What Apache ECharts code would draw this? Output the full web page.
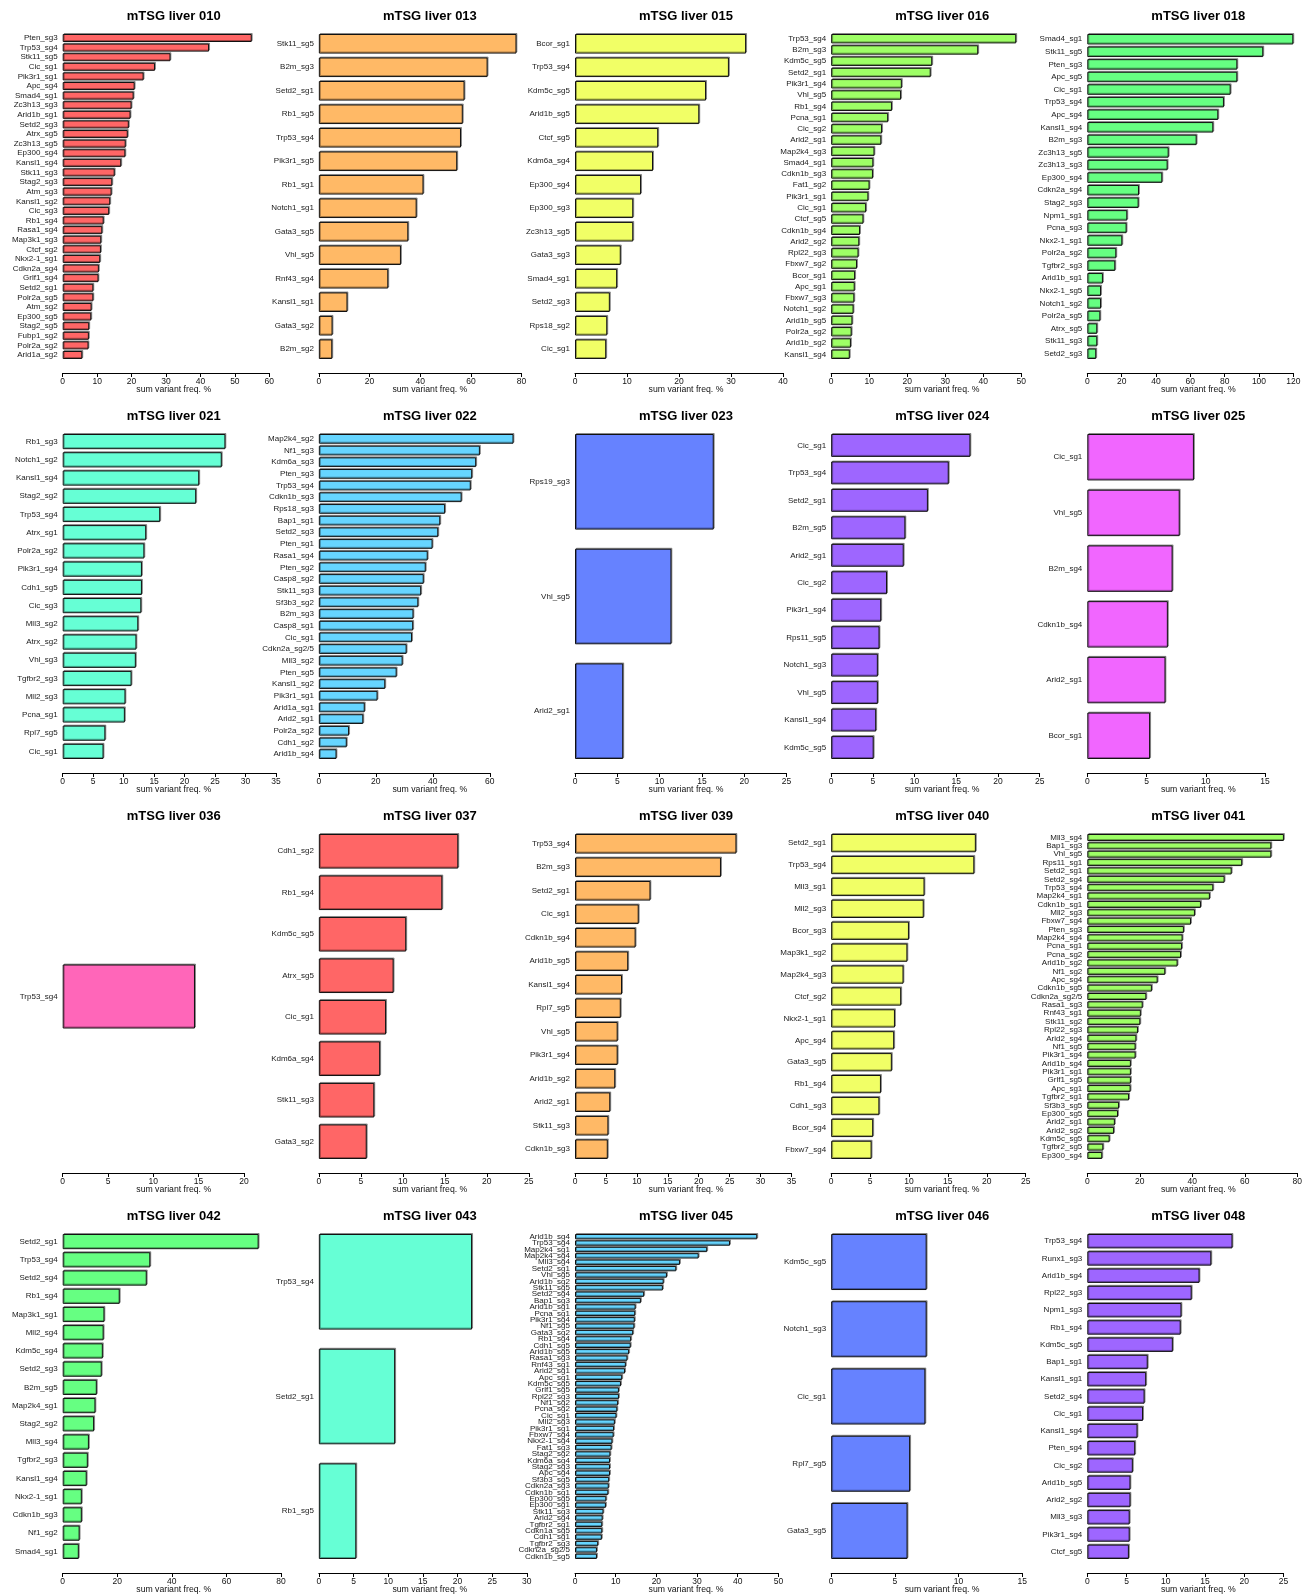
<!DOCTYPE html>
<html>
<head>
<meta charset="utf-8">
<script src="https://cdn.jsdelivr.net/npm/echarts@6/dist/echarts.min.js"></script>
<style>
  html, body { margin: 0; padding: 0; background: #ffffff; }
  #chart { width: 1316px; height: 1595px; }
</style>
</head>
<body>
<div id="chart"></div>
<script>
// ---- Sum of variant frequencies per sgRNA, one panel per liver sample ----

const sampleIds = ['010', '013', '015', '016', '018', '021', '022', '023', '024', '025',
                   '036', '037', '039', '040', '041', '042', '043', '045', '046', '048'];

const labels010 = ['Pten_sg3', 'Trp53_sg4', 'Stk11_sg5', 'Cic_sg1', 'Pik3r1_sg1', 'Apc_sg4', 'Smad4_sg1', 'Zc3h13_sg3', 'Arid1b_sg1', 'Setd2_sg3', 'Atrx_sg5', 'Zc3h13_sg5', 'Ep300_sg4', 'Kansl1_sg4', 'Stk11_sg3', 'Stag2_sg3', 'Atm_sg3', 'Kansl1_sg2', 'Cic_sg3', 'Rb1_sg4', 'Rasa1_sg4', 'Map3k1_sg3', 'Ctcf_sg2', 'Nkx2-1_sg1', 'Cdkn2a_sg4', 'Grlf1_sg4', 'Setd2_sg1', 'Polr2a_sg5', 'Atm_sg2', 'Ep300_sg5', 'Stag2_sg5', 'Fubp1_sg2', 'Polr2a_sg2', 'Arid1a_sg2'];
const values010 = [54.9, 42.5, 31.3, 26.8, 23.5, 20.9, 20.6, 20.0, 19.7, 19.2, 18.9, 18.3, 18.2, 17.0, 15.1, 14.4, 14.2, 13.8, 13.5, 11.9, 11.5, 11.2, 11.1, 10.9, 10.5, 10.4, 8.9, 8.9, 8.4, 8.3, 7.7, 7.6, 7.5, 5.7];
const ticks010 = [0, 10, 20, 30, 40, 50, 60];

const labels013 = ['Stk11_sg5', 'B2m_sg3', 'Setd2_sg1', 'Rb1_sg5', 'Trp53_sg4', 'Pik3r1_sg5', 'Rb1_sg1', 'Notch1_sg1', 'Gata3_sg5', 'Vhl_sg5', 'Rnf43_sg4', 'Kansl1_sg1', 'Gata3_sg2', 'B2m_sg2'];
const values013 = [78.0, 66.6, 57.5, 56.8, 56.1, 54.6, 41.3, 38.6, 35.3, 32.4, 27.4, 11.3, 5.4, 5.3];
const ticks013 = [0, 20, 40, 60, 80];

const labels015 = ['Bcor_sg1', 'Trp53_sg4', 'Kdm5c_sg5', 'Arid1b_sg5', 'Ctcf_sg5', 'Kdm6a_sg4', 'Ep300_sg4', 'Ep300_sg3', 'Zc3h13_sg5', 'Gata3_sg3', 'Smad4_sg1', 'Setd2_sg3', 'Rps18_sg2', 'Cic_sg1'];
const values015 = [32.9, 29.6, 25.2, 23.9, 16.0, 15.0, 12.7, 11.2, 11.2, 8.8, 8.1, 6.7, 6.2, 6.0];
const ticks015 = [0, 10, 20, 30, 40];

const labels016 = ['Trp53_sg4', 'B2m_sg3', 'Kdm5c_sg5', 'Setd2_sg1', 'Pik3r1_sg4', 'Vhl_sg5', 'Rb1_sg4', 'Pcna_sg1', 'Cic_sg2', 'Arid2_sg1', 'Map2k4_sg3', 'Smad4_sg1', 'Cdkn1b_sg3', 'Fat1_sg2', 'Pik3r1_sg1', 'Cic_sg1', 'Ctcf_sg5', 'Cdkn1b_sg4', 'Arid2_sg2', 'Rpl22_sg3', 'Fbxw7_sg2', 'Bcor_sg1', 'Apc_sg1', 'Fbxw7_sg3', 'Notch1_sg2', 'Arid1b_sg5', 'Polr2a_sg2', 'Arid1b_sg2', 'Kansl1_sg4'];
const values016 = [48.7, 38.7, 26.6, 26.2, 18.6, 18.4, 16.0, 15.0, 13.4, 13.2, 11.4, 11.1, 11.0, 10.1, 9.8, 9.2, 8.5, 7.6, 7.4, 7.2, 6.8, 6.3, 6.2, 6.1, 5.9, 5.6, 5.4, 5.2, 4.9];
const ticks016 = [0, 10, 20, 30, 40, 50];

const labels018 = ['Smad4_sg1', 'Stk11_sg5', 'Pten_sg3', 'Apc_sg5', 'Cic_sg1', 'Trp53_sg4', 'Apc_sg4', 'Kansl1_sg4', 'B2m_sg3', 'Zc3h13_sg5', 'Zc3h13_sg3', 'Ep300_sg4', 'Cdkn2a_sg4', 'Stag2_sg3', 'Npm1_sg1', 'Pcna_sg3', 'Nkx2-1_sg1', 'Polr2a_sg2', 'Tgfbr2_sg3', 'Arid1b_sg1', 'Nkx2-1_sg5', 'Notch1_sg2', 'Polr2a_sg5', 'Atrx_sg5', 'Stk11_sg3', 'Setd2_sg3'];
const values018 = [120.0, 102.5, 87.4, 87.4, 83.5, 79.6, 76.3, 73.4, 63.7, 47.4, 46.8, 43.7, 30.1, 29.9, 23.3, 22.9, 20.4, 16.9, 16.3, 9.1, 8.0, 8.0, 7.6, 5.8, 5.8, 5.2];
const ticks018 = [0, 20, 40, 60, 80, 100, 120];

const labels021 = ['Rb1_sg3', 'Notch1_sg2', 'Kansl1_sg4', 'Stag2_sg2', 'Trp53_sg4', 'Atrx_sg1', 'Polr2a_sg2', 'Pik3r1_sg4', 'Cdh1_sg5', 'Cic_sg3', 'Mll3_sg2', 'Atrx_sg2', 'Vhl_sg3', 'Tgfbr2_sg3', 'Mll2_sg3', 'Pcna_sg1', 'Rpl7_sg5', 'Cic_sg1'];
const values021 = [26.7, 26.1, 22.4, 21.9, 16.0, 13.7, 13.4, 13.0, 13.0, 12.9, 12.4, 12.1, 12.0, 11.3, 10.3, 10.2, 7.0, 6.7];
const ticks021 = [0, 5, 10, 15, 20, 25, 30, 35];

const labels022 = ['Map2k4_sg2', 'Nf1_sg3', 'Kdm6a_sg3', 'Pten_sg3', 'Trp53_sg4', 'Cdkn1b_sg3', 'Rps18_sg3', 'Bap1_sg1', 'Setd2_sg3', 'Pten_sg1', 'Rasa1_sg4', 'Pten_sg2', 'Casp8_sg2', 'Stk11_sg3', 'Sf3b3_sg2', 'B2m_sg3', 'Casp8_sg1', 'Cic_sg1', 'Cdkn2a_sg2/5', 'Mll3_sg2', 'Pten_sg5', 'Kansl1_sg2', 'Pik3r1_sg1', 'Arid1a_sg1', 'Arid2_sg1', 'Polr2a_sg2', 'Cdh1_sg2', 'Arid1b_sg4'];
const values022 = [68.3, 56.5, 55.2, 53.8, 53.3, 50.1, 44.3, 42.6, 41.9, 39.9, 38.2, 37.5, 36.8, 35.9, 34.9, 33.2, 33.1, 32.7, 30.8, 29.4, 27.3, 23.3, 20.6, 16.1, 15.6, 10.6, 9.8, 6.2];
const ticks022 = [0, 20, 40, 60];

const labels023 = ['Rps19_sg3', 'Vhl_sg5', 'Arid2_sg1'];
const values023 = [16.4, 11.4, 5.7];
const ticks023 = [0, 5, 10, 15, 20, 25];

const labels024 = ['Cic_sg1', 'Trp53_sg4', 'Setd2_sg1', 'B2m_sg5', 'Arid2_sg1', 'Cic_sg2', 'Pik3r1_sg4', 'Rps11_sg5', 'Notch1_sg3', 'Vhl_sg5', 'Kansl1_sg4', 'Kdm5c_sg5'];
const values024 = [16.7, 14.1, 11.6, 8.9, 8.7, 6.7, 6.0, 5.8, 5.6, 5.6, 5.4, 5.1];
const ticks024 = [0, 5, 10, 15, 20, 25];

const labels025 = ['Cic_sg1', 'Vhl_sg5', 'B2m_sg4', 'Cdkn1b_sg4', 'Arid2_sg1', 'Bcor_sg1'];
const values025 = [9.0, 7.8, 7.2, 6.8, 6.6, 5.3];
const ticks025 = [0, 5, 10, 15];

const labels036 = ['Trp53_sg4'];
const values036 = [14.6];
const ticks036 = [0, 5, 10, 15, 20];

const labels037 = ['Cdh1_sg2', 'Rb1_sg4', 'Kdm5c_sg5', 'Atrx_sg5', 'Cic_sg1', 'Kdm6a_sg4', 'Stk11_sg3', 'Gata3_sg2'];
const values037 = [16.6, 14.7, 10.4, 8.9, 8.0, 7.3, 6.6, 5.7];
const ticks037 = [0, 5, 10, 15, 20, 25];

const labels039 = ['Trp53_sg4', 'B2m_sg3', 'Setd2_sg1', 'Cic_sg1', 'Cdkn1b_sg4', 'Arid1b_sg5', 'Kansl1_sg4', 'Rpl7_sg5', 'Vhl_sg5', 'Pik3r1_sg4', 'Arid1b_sg2', 'Arid2_sg1', 'Stk11_sg3', 'Cdkn1b_sg3'];
const values039 = [26.1, 23.6, 12.2, 10.3, 9.8, 8.6, 7.6, 7.4, 6.9, 6.9, 6.5, 5.7, 5.4, 5.3];
const ticks039 = [0, 5, 10, 15, 20, 25, 30, 35];

const labels040 = ['Setd2_sg1', 'Trp53_sg4', 'Mll3_sg1', 'Mll2_sg3', 'Bcor_sg3', 'Map3k1_sg2', 'Map2k4_sg3', 'Ctcf_sg2', 'Nkx2-1_sg1', 'Apc_sg4', 'Gata3_sg5', 'Rb1_sg4', 'Cdh1_sg3', 'Bcor_sg4', 'Fbxw7_sg4'];
const values040 = [18.6, 18.4, 12.0, 11.9, 10.0, 9.8, 9.3, 9.0, 8.2, 8.1, 7.8, 6.4, 6.2, 5.4, 5.2];
const ticks040 = [0, 5, 10, 15, 20, 25];

const labels041 = ['Mll3_sg4', 'Bap1_sg3', 'Vhl_sg5', 'Rps11_sg1', 'Setd2_sg1', 'Setd2_sg4', 'Trp53_sg4', 'Map2k4_sg1', 'Cdkn1b_sg1', 'Mll2_sg3', 'Fbxw7_sg4', 'Pten_sg3', 'Map2k4_sg4', 'Pcna_sg1', 'Pcna_sg2', 'Arid1b_sg2', 'Nf1_sg2', 'Apc_sg4', 'Cdkn1b_sg5', 'Cdkn2a_sg2/5', 'Rasa1_sg3', 'Rnf43_sg1', 'Stk11_sg2', 'Rpl22_sg3', 'Arid2_sg4', 'Nf1_sg5', 'Pik3r1_sg4', 'Arid1b_sg4', 'Pik3r1_sg1', 'Grlf1_sg5', 'Apc_sg1', 'Tgfbr2_sg1', 'Sf3b3_sg5', 'Ep300_sg5', 'Arid2_sg1', 'Arid2_sg2', 'Kdm5c_sg5', 'Tgfbr2_sg5', 'Ep300_sg4'];
const values041 = [74.9, 70.1, 70.1, 59.0, 55.0, 52.3, 48.0, 46.7, 43.3, 41.0, 39.5, 36.8, 36.3, 36.1, 35.7, 34.4, 29.7, 26.8, 24.6, 22.5, 21.1, 20.4, 20.2, 19.3, 18.7, 18.4, 18.4, 16.6, 16.6, 16.6, 16.5, 15.9, 12.1, 11.7, 10.5, 10.2, 8.5, 6.1, 5.7];
const ticks041 = [0, 20, 40, 60, 80];

const labels042 = ['Setd2_sg1', 'Trp53_sg4', 'Setd2_sg4', 'Rb1_sg4', 'Map3k1_sg1', 'Mll2_sg4', 'Kdm5c_sg4', 'Setd2_sg3', 'B2m_sg5', 'Map2k4_sg1', 'Stag2_sg2', 'Mll3_sg4', 'Tgfbr2_sg3', 'Kansl1_sg4', 'Nkx2-1_sg1', 'Cdkn1b_sg3', 'Nf1_sg2', 'Smad4_sg1'];
const values042 = [71.8, 32.1, 30.8, 20.9, 15.3, 15.0, 14.7, 14.3, 12.5, 12.0, 11.5, 9.6, 9.2, 8.8, 7.0, 7.0, 6.2, 5.9];
const ticks042 = [0, 20, 40, 60, 80];

const labels043 = ['Trp53_sg4', 'Setd2_sg1', 'Rb1_sg5'];
const values043 = [22.1, 11.0, 5.4];
const ticks043 = [0, 5, 10, 15, 20, 25, 30];

const labels045 = ['Arid1b_sg4', 'Trp53_sg4', 'Map2k4_sg1', 'Map2k4_sg4', 'Mll3_sg4', 'Setd2_sg1', 'Vhl_sg5', 'Arid1b_sg2', 'Stk11_sg5', 'Setd2_sg4', 'Bap1_sg3', 'Arid1b_sg1', 'Pcna_sg1', 'Pik3r1_sg4', 'Nf1_sg5', 'Gata3_sg2', 'Rb1_sg4', 'Cdh1_sg5', 'Arid1b_sg5', 'Rasa1_sg3', 'Rnf43_sg1', 'Arid2_sg1', 'Apc_sg1', 'Kdm5c_sg5', 'Grlf1_sg5', 'Rpl22_sg3', 'Nf1_sg2', 'Pcna_sg2', 'Cic_sg1', 'Mll2_sg3', 'Pik3r1_sg1', 'Fbxw7_sg4', 'Nkx2-1_sg4', 'Fat1_sg3', 'Stag2_sg2', 'Kdm6a_sg4', 'Stag2_sg3', 'Apc_sg4', 'Sf3b3_sg5', 'Cdkn2a_sg3', 'Cdkn1b_sg1', 'Ep300_sg5', 'Ep300_sg1', 'Stk11_sg3', 'Arid2_sg4', 'Tgfbr2_sg1', 'Cdkn1a_sg5', 'Cdh1_sg1', 'Tgfbr2_sg3', 'Cdkn2a_sg2/5', 'Cdkn1b_sg5'];
const values045 = [44.8, 38.1, 32.5, 30.4, 25.8, 24.9, 22.6, 21.8, 21.6, 17.0, 16.2, 14.9, 14.8, 14.7, 14.6, 14.3, 13.8, 13.7, 13.3, 12.9, 12.5, 12.3, 11.6, 11.3, 10.8, 10.8, 10.6, 10.4, 10.2, 9.8, 9.6, 9.5, 9.2, 9.0, 8.7, 8.6, 8.6, 8.6, 8.4, 8.3, 8.2, 7.7, 7.6, 7.0, 6.8, 6.7, 6.7, 6.6, 5.7, 5.4, 5.4];
const ticks045 = [0, 10, 20, 30, 40, 50];

const labels046 = ['Kdm5c_sg5', 'Notch1_sg3', 'Cic_sg1', 'Rpl7_sg5', 'Gata3_sg5'];
const values046 = [7.5, 7.5, 7.4, 6.2, 6.0];
const ticks046 = [0, 5, 10, 15];

const labels048 = ['Trp53_sg4', 'Runx1_sg3', 'Arid1b_sg4', 'Rpl22_sg3', 'Npm1_sg3', 'Rb1_sg4', 'Kdm5c_sg5', 'Bap1_sg1', 'Kansl1_sg1', 'Setd2_sg4', 'Cic_sg1', 'Kansl1_sg4', 'Pten_sg4', 'Cic_sg2', 'Arid1b_sg5', 'Arid2_sg2', 'Mll3_sg3', 'Pik3r1_sg4', 'Ctcf_sg5'];
const values048 = [18.5, 15.8, 14.3, 13.3, 12.0, 11.9, 10.9, 7.7, 7.5, 7.3, 7.1, 6.4, 6.1, 5.8, 5.5, 5.5, 5.4, 5.4, 5.3];
const ticks048 = [0, 5, 10, 15, 20, 25];

const panels = [
  { id: sampleIds[0],  labels: labels010, values: values010, ticks: ticks010 },
  { id: sampleIds[1],  labels: labels013, values: values013, ticks: ticks013 },
  { id: sampleIds[2],  labels: labels015, values: values015, ticks: ticks015 },
  { id: sampleIds[3],  labels: labels016, values: values016, ticks: ticks016 },
  { id: sampleIds[4],  labels: labels018, values: values018, ticks: ticks018 },
  { id: sampleIds[5],  labels: labels021, values: values021, ticks: ticks021 },
  { id: sampleIds[6],  labels: labels022, values: values022, ticks: ticks022 },
  { id: sampleIds[7],  labels: labels023, values: values023, ticks: ticks023 },
  { id: sampleIds[8],  labels: labels024, values: values024, ticks: ticks024 },
  { id: sampleIds[9],  labels: labels025, values: values025, ticks: ticks025 },
  { id: sampleIds[10], labels: labels036, values: values036, ticks: ticks036 },
  { id: sampleIds[11], labels: labels037, values: values037, ticks: ticks037 },
  { id: sampleIds[12], labels: labels039, values: values039, ticks: ticks039 },
  { id: sampleIds[13], labels: labels040, values: values040, ticks: ticks040 },
  { id: sampleIds[14], labels: labels041, values: values041, ticks: ticks041 },
  { id: sampleIds[15], labels: labels042, values: values042, ticks: ticks042 },
  { id: sampleIds[16], labels: labels043, values: values043, ticks: ticks043 },
  { id: sampleIds[17], labels: labels045, values: values045, ticks: ticks045 },
  { id: sampleIds[18], labels: labels046, values: values046, ticks: ticks046 },
  { id: sampleIds[19], labels: labels048, values: values048, ticks: ticks048 }
];

// ---- Layout & style ----
// pixel length of each panel's x axis (from 0 to its last tick)
const axisWidths = [206.6, 202.7, 208, 190, 206,
                    213.3, 171, 211.5, 208.5, 177.7,
                    181.2, 210, 216.5, 194.5, 210,
                    218.3, 208, 203.4, 191, 196.2];
const palette = ['#FF6666', '#FFB966', '#F1FF66', '#9EFF66', '#66FF82', '#66FFD5',
                 '#66D5FF', '#6682FF', '#9E66FF', '#F166FF', '#FF66B9'];

const COL_X0 = 62.7, COL_STEP = 256.15, ROW_STEP = 400;
const BAR_TOP = 34, BAR_BOTTOM = 359, AXIS_Y = 373;
const TITLE_Y = 16.3, XLAB_Y = 389.5, CENTER_DX = 111;
const SINGLE_BAR = 64;
const FONT = "'Liberation Sans', Arial, Helvetica, sans-serif";

const grids = [], xAxes = [], yAxes = [], series = [], texts = [];

panels.forEach((p, i) => {
  const col = i % 5, row = Math.floor(i / 5);
  const x0 = COL_X0 + COL_STEP * col;
  const rowY = ROW_STEP * row;
  const n = p.labels.length;

  let top, height, barWidth;
  if (n > 1) {
    // bar width 1, gap 0.2 between bars
    const band = (BAR_BOTTOM - BAR_TOP) / (n - 1 / 6);
    top = rowY + BAR_TOP - band / 12;
    height = band * n;
  } else {
    top = rowY + BAR_TOP;
    height = BAR_BOTTOM - BAR_TOP;
    barWidth = SINGLE_BAR;
  }

  grids.push({ left: x0, top: top, width: axisWidths[i], height: height,
               containLabel: false, outerBoundsMode: 'none' });

  const lastTick = p.ticks[p.ticks.length - 1];
  xAxes.push({
    type: 'value', gridIndex: i, min: p.ticks[0], max: lastTick,
    interval: p.ticks[1] - p.ticks[0],
    offset: rowY + AXIS_Y - (top + height),
    axisLine: { show: true, lineStyle: { color: '#000', width: 1 } },
    axisTick: { show: true, length: 4, lineStyle: { color: '#000', width: 1 } },
    axisLabel: { fontSize: 8.5, color: '#111', margin: 4, fontFamily: FONT },
    splitLine: { show: false }
  });

  yAxes.push({
    type: 'category', gridIndex: i, inverse: true, data: p.labels,
    axisLine: { show: false }, axisTick: { show: false },
    axisLabel: { interval: 0, fontSize: 8, color: '#1a1a1a', margin: 5, fontFamily: FONT }
  });

  series.push({
    type: 'bar', xAxisIndex: i, yAxisIndex: i, data: p.values,
    barCategoryGap: '16.67%', barWidth: barWidth, clip: false,
    itemStyle: {
      color: palette[i % palette.length],
      borderColor: '#111', borderWidth: 1,
      shadowColor: 'rgba(0,0,0,0.35)', shadowOffsetX: 1, shadowOffsetY: -1, shadowBlur: 0
    }
  });

  texts.push({
    type: 'text', x: x0 + CENTER_DX, y: rowY + TITLE_Y,
    style: { text: 'mTSG liver ' + p.id, font: 'bold 13px ' + FONT, fill: '#000',
             align: 'center', verticalAlign: 'middle' }
  });
  texts.push({
    type: 'text', x: x0 + CENTER_DX, y: rowY + XLAB_Y,
    style: { text: 'sum variant freq. %', font: '8.7px ' + FONT, fill: '#111',
             align: 'center', verticalAlign: 'middle' }
  });
});

const chart = echarts.init(document.getElementById('chart'), null, { renderer: 'canvas' });
chart.setOption({
  backgroundColor: '#ffffff',
  animation: false,
  grid: grids,
  xAxis: xAxes,
  yAxis: yAxes,
  series: series,
  graphic: texts
});
</script>
</body>
</html>
